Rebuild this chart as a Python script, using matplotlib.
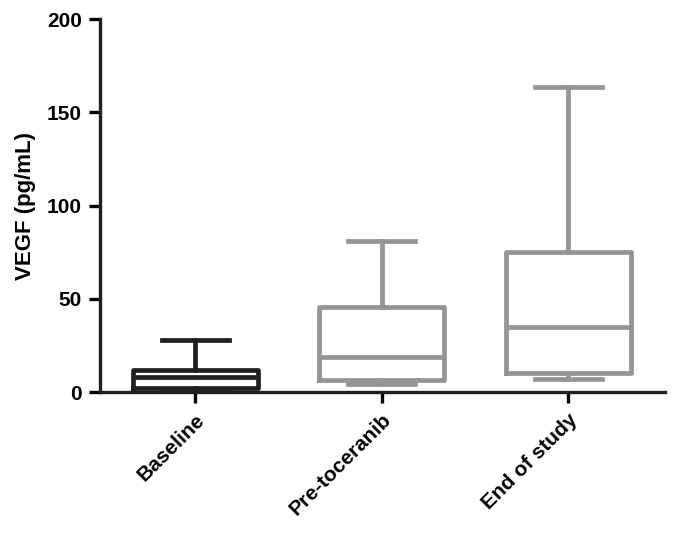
import matplotlib.pyplot as plt

plt.rcParams['font.family'] = ['Liberation Sans', 'DejaVu Sans']
plt.rcParams['font.weight'] = 'bold'

groups = ['Baseline', 'Pre-toceranib', 'End of study']
mins = [0.0, 4.3, 7.0]
q1s = [2.0, 6.4, 10.2]
medians = [8.0, 18.8, 34.8]
q3s = [12.0, 45.6, 75.0]
maxs = [28.0, 81.0, 163.5]
colors = ['#231f20', '#939598', '#939598']

stats = []
for i in range(len(groups)):
    stats.append({'label': groups[i], 'whislo': mins[i], 'q1': q1s[i], 'med': medians[i],
                  'q3': q3s[i], 'whishi': maxs[i], 'fliers': []})

fig = plt.figure(figsize=(6.76, 5.35), dpi=100)
ax = fig.add_axes([0.148, 0.267, 0.836, 0.697])

for i, s in enumerate(stats):
    c = colors[i]
    ax.bxp([s], positions=[i + 1], widths=0.67, showfliers=False,
           boxprops=dict(color=c, linewidth=3.4),
           medianprops=dict(color=c, linewidth=3.4),
           whiskerprops=dict(color=c, linewidth=3.4),
           capprops=dict(color=c, linewidth=3.4),
           capwidths=0.36)

ax.set_xlim(0.49, 3.52)
ax.set_ylim(0, 200)
ax.set_yticks([0, 50, 100, 150, 200])
ax.set_xticks([1, 2, 3])
ax.set_xticklabels(groups, rotation=45, ha='right', rotation_mode='anchor', fontsize=15, fontweight='bold')
ax.tick_params(axis='y', labelsize=15, width=2.4, length=8, pad=5)
ax.tick_params(axis='x', width=2.4, length=8, pad=5)
ax.set_ylabel('VEGF (pg/mL)', fontsize=16, fontweight='bold', labelpad=8)
for sp in ['top', 'right']:
    ax.spines[sp].set_visible(False)
for sp in ['left', 'bottom']:
    ax.spines[sp].set_linewidth(2.4)
    ax.spines[sp].set_color('#231f20')
ax.spines['left'].set_bounds(0, 200)

plt.savefig('out.png', dpi=100)
